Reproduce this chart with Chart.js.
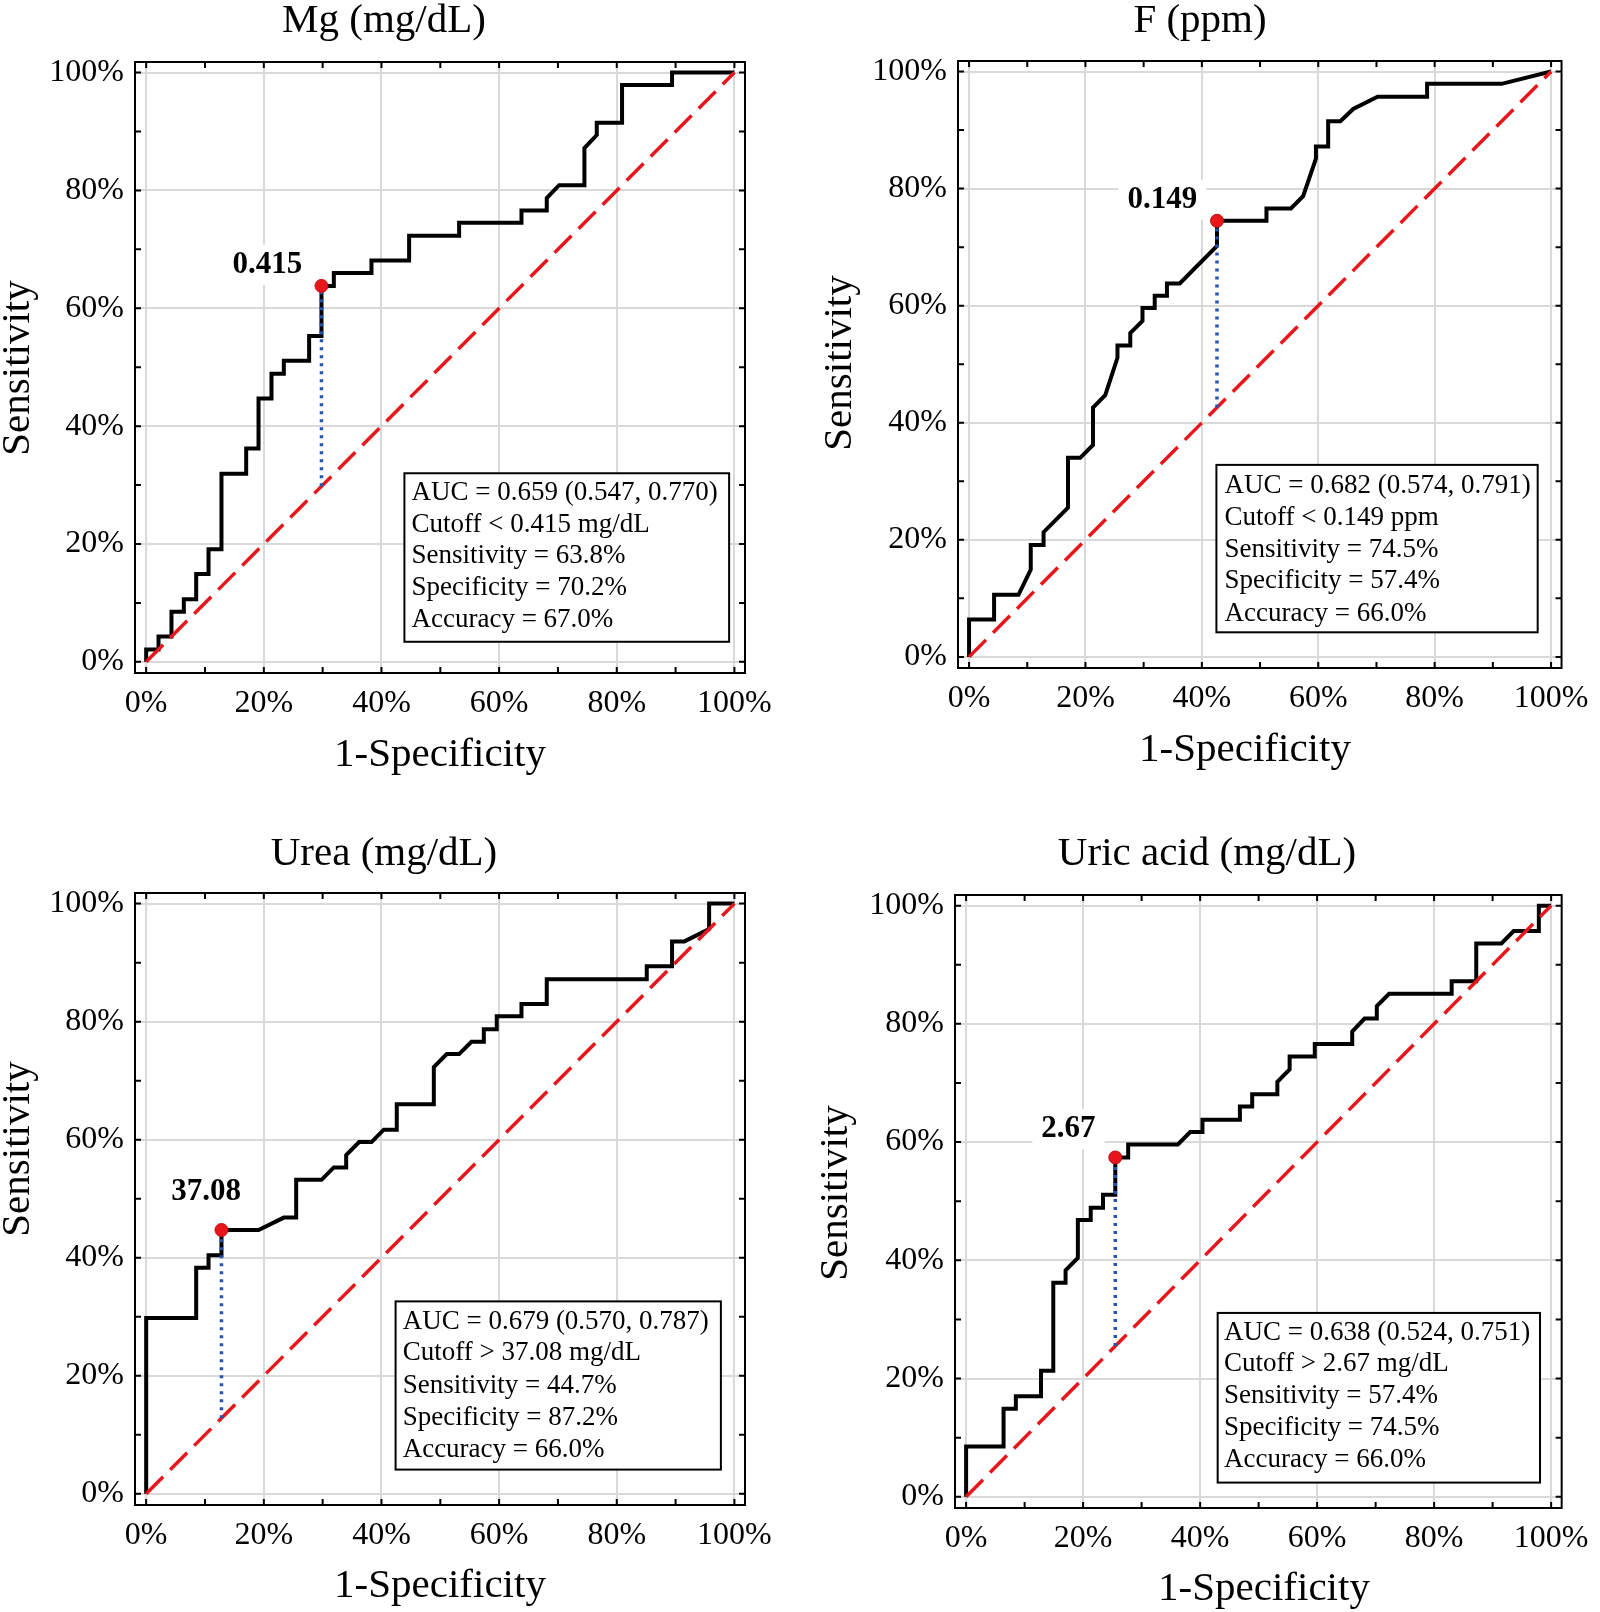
<!DOCTYPE html>
<html>
<head>
<meta charset="utf-8">
<title>ROC curves</title>
<script src="https://cdn.jsdelivr.net/npm/chart.js@4.4.1/dist/chart.umd.min.js"></script>
<style>
  body { margin: 0; background: #fff; }
  #wrap { position: relative; width: 1600px; height: 1612px; overflow: hidden; }
  canvas { position: absolute; }
</style>
</head>
<body>
<div id="wrap">
  <canvas id="c1" width="800" height="806" style="left:0px;top:0px"></canvas>
  <canvas id="c2" width="800" height="806" style="left:800px;top:0px"></canvas>
  <canvas id="c3" width="800" height="806" style="left:0px;top:806px"></canvas>
  <canvas id="c4" width="800" height="806" style="left:800px;top:806px"></canvas>
</div>
<script>
// ---- data (percent) ----
var tickValues = [0, 20, 40, 60, 80, 100];
var minorTickValues = [0, 10, 20, 30, 40, 50, 60, 70, 80, 90, 100];
var diagonal = [[0, 0], [100, 100]];

var titles = ['Mg (mg/dL)', 'F (ppm)', 'Urea (mg/dL)', 'Uric acid (mg/dL)'];
var xAxisTitle = '1-Specificity';
var yAxisTitle = 'Sensitivity';

// [1-specificity, sensitivity]
var rocMg = [[0,0],[0,2.1],[2.1,2.1],[2.1,4.3],[4.3,4.3],[4.3,8.5],[6.4,8.5],[6.4,10.6],[8.5,10.6],[8.5,14.9],
  [10.6,14.9],[10.6,19.1],[12.8,19.1],[12.8,31.9],[17.0,31.9],[17.0,36.2],[19.1,36.2],[19.1,44.7],[21.3,44.7],
  [21.3,48.9],[23.4,48.9],[23.4,51.1],[27.7,51.1],[27.7,55.3],[29.8,55.3],[29.8,63.8],[31.9,63.8],[31.9,66.0],
  [38.3,66.0],[38.3,68.1],[44.7,68.1],[44.7,72.3],[53.2,72.3],[53.2,74.5],[63.8,74.5],[63.8,76.6],[68.1,76.6],
  [68.1,78.7],[70.2,80.9],[74.5,80.9],[74.5,87.2],[76.6,89.4],[76.6,91.5],[80.9,91.5],[80.9,97.9],[89.4,97.9],
  [89.4,100],[100,100]];
var rocF = [[0,0],[0,6.4],[4.3,6.4],[4.3,10.6],[8.5,10.6],[10.6,14.9],[10.6,19.1],[12.8,19.1],[12.8,21.3],
  [17.0,25.5],[17.0,34.0],[19.1,34.0],[21.3,36.2],[21.3,42.6],[23.4,44.7],[25.5,51.1],[25.5,53.2],[27.7,53.2],
  [27.7,55.3],[29.8,57.4],[29.8,59.6],[31.9,59.6],[31.9,61.7],[34.0,61.7],[34.0,63.8],[36.2,63.8],[42.6,70.2],
  [42.6,74.5],[51.1,74.5],[51.1,76.6],[55.3,76.6],[57.4,78.7],[59.6,85.1],[59.6,87.2],[61.7,87.2],[61.7,91.5],
  [63.8,91.5],[66.0,93.6],[70.2,95.7],[78.7,95.7],[78.7,97.9],[91.5,97.9],[100,100]];
var rocUrea = [[0,0],[0,29.8],[8.5,29.8],[8.5,38.3],[10.6,38.3],[10.6,40.4],[12.8,40.4],[12.8,44.7],[19.1,44.7],
  [23.4,46.8],[25.5,46.8],[25.5,53.2],[29.8,53.2],[31.9,55.3],[34.0,55.3],[34.0,57.4],[36.2,59.6],[38.3,59.6],
  [40.4,61.7],[42.6,61.7],[42.6,66.0],[48.9,66.0],[48.9,72.3],[51.1,74.5],[53.2,74.5],[55.3,76.6],[57.4,76.6],
  [57.4,78.7],[59.6,78.7],[59.6,80.9],[63.8,80.9],[63.8,83.0],[68.1,83.0],[68.1,87.2],[85.1,87.2],[85.1,89.4],
  [89.4,89.4],[89.4,93.6],[91.5,93.6],[95.7,95.7],[95.7,100],[100,100]];
var rocUric = [[0,0],[0,8.5],[6.4,8.5],[6.4,14.9],[8.5,14.9],[8.5,17.0],[12.8,17.0],[12.8,21.3],[14.9,21.3],
  [14.9,36.2],[17.0,36.2],[17.0,38.3],[19.1,40.4],[19.1,46.8],[21.3,46.8],[21.3,48.9],[23.4,48.9],[23.4,51.1],
  [25.5,51.1],[25.5,57.4],[27.7,57.4],[27.7,59.6],[36.2,59.6],[38.3,61.7],[40.4,61.7],[40.4,63.8],[46.8,63.8],
  [46.8,66.0],[48.9,66.0],[48.9,68.1],[53.2,68.1],[53.2,70.2],[55.3,72.3],[55.3,74.5],[59.6,74.5],[59.6,76.6],
  [66.0,76.6],[66.0,78.7],[68.1,80.9],[70.2,80.9],[70.2,83.0],[72.3,85.1],[83.0,85.1],[83.0,87.2],[87.2,87.2],
  [87.2,93.6],[91.5,93.6],[93.6,95.7],[97.9,95.7],[97.9,100],[100,100]];

// optimal cutoff points [1-specificity, sensitivity]
var cutPoints = [[29.8, 63.8], [42.6, 74.5], [12.8, 44.7], [25.5, 57.4]];
var cutLabels = ['0.415', '0.149', '37.08', '2.67'];

var statsMg = ['AUC = 0.659 (0.547, 0.770)', 'Cutoff < 0.415 mg/dL', 'Sensitivity = 63.8%', 'Specificity = 70.2%', 'Accuracy = 67.0%'];
var statsF = ['AUC = 0.682 (0.574, 0.791)', 'Cutoff < 0.149 ppm', 'Sensitivity = 74.5%', 'Specificity = 57.4%', 'Accuracy = 66.0%'];
var statsUrea = ['AUC = 0.679 (0.570, 0.787)', 'Cutoff > 37.08 mg/dL', 'Sensitivity = 44.7%', 'Specificity = 87.2%', 'Accuracy = 66.0%'];
var statsUric = ['AUC = 0.638 (0.524, 0.751)', 'Cutoff > 2.67 mg/dL', 'Sensitivity = 57.4%', 'Specificity = 74.5%', 'Accuracy = 66.0%'];

// ---- layout (page pixels / axis units) ----
var serif = '"Liberation Serif", "Times New Roman", Times, serif';
var panels = [
  { id: 'c1', left: 0, top: 0, frame: [135, 62, 745, 673], title: [384, 32], xTitle: [440, 766], yTitle: [29, 368],
    labelAt: [20.6, 67.4], box: [43.9, 32.0, 99.1, 3.4], textX: 45.1, lineY: [28.7, 23.3, 17.9, 12.5, 7.1] },
  { id: 'c2', left: 800, top: 0, frame: [958, 61, 1565, 668], title: [1200, 32], xTitle: [1245, 761], yTitle: [851, 363],
    labelAt: [33.2, 78.1], box: [42.5, 32.8, 97.7, 4.2], textX: 43.9, lineY: [29.2, 23.7, 18.3, 12.9, 7.4] },
  { id: 'c3', left: 0, top: 806, frame: [135, 893, 745, 1505], title: [384, 865], xTitle: [440, 1597], yTitle: [29, 1149],
    labelAt: [10.2, 51.1], box: [42.4, 32.6, 97.7, 4.1], textX: 43.6, lineY: [29.2, 23.8, 18.3, 12.9, 7.4] },
  { id: 'c4', left: 800, top: 806, frame: [955, 895, 1569, 1508], title: [1207, 865], xTitle: [1264, 1600], yTitle: [847, 1193],
    labelAt: [17.5, 62.2], box: [43.0, 31.1, 98.1, 2.4], textX: 44.1, lineY: [27.8, 22.4, 17.0, 11.6, 6.3] }
];

function toXY(list) {
  return list.map(function (p) { return { x: p[0], y: p[1] }; });
}

function makeDeco(p, label, stats, title) {
  return {
    id: 'rocDeco',
    beforeDatasetsDraw: function (chart) {
      var ctx = chart.ctx, xs = chart.scales.x, ys = chart.scales.y;
      var px = xs.getPixelForValue(p.labelAt[0]), py = ys.getPixelForValue(p.labelAt[1]);
      ctx.save();
      ctx.font = 'bold 31px ' + serif;
      var w = ctx.measureText(label).width;
      ctx.fillStyle = '#fff';
      ctx.fillRect(px - w / 2 - 9, py - 20, w + 18, 40);
      ctx.fillStyle = '#000';
      ctx.textAlign = 'center';
      ctx.textBaseline = 'middle';
      ctx.fillText(label, px, py);
      ctx.restore();
    },
    afterDatasetsDraw: function (chart) {
      var ctx = chart.ctx, xs = chart.scales.x, ys = chart.scales.y;
      var x1 = xs.getPixelForValue(p.box[0]), y1 = ys.getPixelForValue(p.box[1]);
      var x2 = xs.getPixelForValue(p.box[2]), y2 = ys.getPixelForValue(p.box[3]);
      ctx.save();
      ctx.fillStyle = '#fff';
      ctx.fillRect(x1, y1, x2 - x1, y2 - y1);
      ctx.strokeStyle = '#000';
      ctx.lineWidth = 2;
      ctx.strokeRect(x1, y1, x2 - x1, y2 - y1);
      ctx.fillStyle = '#000';
      ctx.font = '27px ' + serif;
      ctx.textAlign = 'left';
      ctx.textBaseline = 'middle';
      var tx = xs.getPixelForValue(p.textX);
      for (var i = 0; i < stats.length; i++) {
        ctx.fillText(stats[i], tx, ys.getPixelForValue(p.lineY[i]));
      }
      ctx.restore();
    },
    afterDraw: function (chart) {
      var ctx = chart.ctx, a = chart.chartArea, xs = chart.scales.x, ys = chart.scales.y;
      ctx.save();
      // frame + inward ticks on all sides
      ctx.strokeStyle = '#000';
      ctx.lineWidth = 2;
      ctx.strokeRect(a.left, a.top, a.right - a.left, a.bottom - a.top);
      ctx.beginPath();
      minorTickValues.forEach(function (v) {
        var x = xs.getPixelForValue(v), y = ys.getPixelForValue(v);
        ctx.moveTo(x, a.bottom); ctx.lineTo(x, a.bottom - 6);
        ctx.moveTo(x, a.top); ctx.lineTo(x, a.top + 6);
        ctx.moveTo(a.left, y); ctx.lineTo(a.left + 6, y);
        ctx.moveTo(a.right, y); ctx.lineTo(a.right - 6, y);
      });
      ctx.stroke();
      // titles
      ctx.fillStyle = '#000';
      ctx.textAlign = 'center';
      ctx.textBaseline = 'alphabetic';
      ctx.font = '41px ' + serif;
      ctx.fillText(title, p.title[0] - p.left, p.title[1] - p.top);
      ctx.fillText(xAxisTitle, p.xTitle[0] - p.left, p.xTitle[1] - p.top);
      ctx.translate(p.yTitle[0] - p.left, p.yTitle[1] - p.top);
      ctx.rotate(-Math.PI / 2);
      ctx.fillText(yAxisTitle, 0, 0);
      ctx.restore();
    }
  };
}

function createRoc(p, roc, cut, label, stats, title) {
  var cw = 800, ch = 806;
  var f = p.frame;
  var yw = f[0] - p.left, xh = p.top + ch - f[3];
  var axisCommon = {
    type: 'linear',
    min: -1.9,
    max: 101.8,
    afterBuildTicks: function (s) { s.ticks = tickValues.map(function (v) { return { value: v }; }); },
    grid: { color: '#d9d9d9', lineWidth: 2, drawTicks: false },
    border: { display: false },
    ticks: { color: '#000', font: { family: serif, size: 32 }, padding: 11, autoSkip: false, maxRotation: 0,
      callback: function (v) { return v + '%'; } }
  };
  var xAxis = Object.assign({}, axisCommon, { afterFit: function (s) { s.height = xh; } });
  var yAxis = Object.assign({}, axisCommon, { afterFit: function (s) { s.width = yw; } });

  return new Chart(document.getElementById(p.id), {
    type: 'scatter',
    data: {
      datasets: [
        { data: toXY([cut]), pointRadius: 6.5, pointBackgroundColor: '#e8161b', pointBorderColor: '#c10d12',
          pointBorderWidth: 1, order: 0 },
        { data: toXY([[cut[0], cut[0]], cut]), showLine: true, borderColor: '#2352b0', borderWidth: 3.5,
          borderDash: [3, 5], pointRadius: 0, order: 1 },
        { data: toXY(diagonal), showLine: true, borderColor: '#e8161b', borderWidth: 3.5,
          borderDash: [24, 10], pointRadius: 0, order: 2 },
        { data: toXY(roc), showLine: true, borderColor: '#000', borderWidth: 4, tension: 0,
          pointRadius: 0, order: 3 }
      ]
    },
    options: {
      responsive: false,
      animation: false,
      events: [],
      layout: { autoPadding: false, padding: { left: 0, top: f[1] - p.top, right: p.left + cw - f[2], bottom: 0 } },
      scales: { x: xAxis, y: yAxis },
      plugins: { legend: { display: false }, tooltip: { enabled: false }, title: { display: false } }
    },
    plugins: [makeDeco(p, label, stats, title)]
  });
}

Chart.defaults.font.family = serif;
createRoc(panels[0], rocMg, cutPoints[0], cutLabels[0], statsMg, titles[0]);
createRoc(panels[1], rocF, cutPoints[1], cutLabels[1], statsF, titles[1]);
createRoc(panels[2], rocUrea, cutPoints[2], cutLabels[2], statsUrea, titles[2]);
createRoc(panels[3], rocUric, cutPoints[3], cutLabels[3], statsUric, titles[3]);
</script>
</body>
</html>
